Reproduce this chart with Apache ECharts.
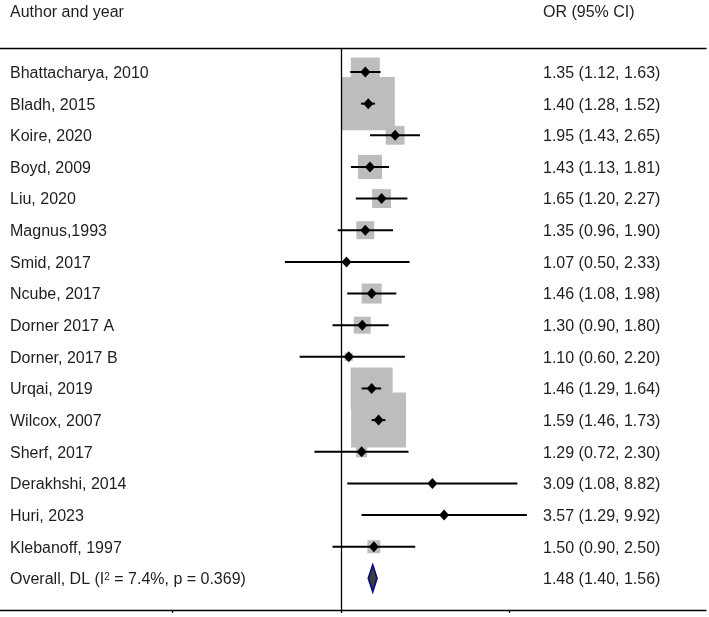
<!DOCTYPE html>
<html>
<head>
<meta charset="utf-8">
<script src="https://cdn.jsdelivr.net/npm/echarts@6/dist/echarts.min.js"></script>
<style>
html,body{margin:0;padding:0;background:#fff;}
#chart{width:709px;height:617px;}
</style>
</head>
<body>
<div id="chart"></div>
<script>
// ---- data ----
const studies = ["Bhattacharya, 2010","Bladh, 2015","Koire, 2020","Boyd, 2009","Liu, 2020","Magnus,1993","Smid, 2017","Ncube, 2017","Dorner 2017 A","Dorner, 2017 B","Urqai, 2019","Wilcox, 2007","Sherf, 2017","Derakhshi, 2014","Huri, 2023","Klebanoff, 1997"];
const orValues = [1.35,1.40,1.95,1.43,1.65,1.35,1.07,1.46,1.30,1.10,1.46,1.59,1.29,3.09,3.57,1.50];
const lowerCI  = [1.12,1.28,1.43,1.13,1.20,0.96,0.50,1.08,0.90,0.60,1.29,1.46,0.72,1.08,1.29,0.90];
const upperCI  = [1.63,1.52,2.65,1.81,2.27,1.90,2.33,1.98,1.80,2.20,1.64,1.73,2.30,8.82,9.92,2.50];
const weights  = [7.5,25.2,3.2,5.2,3.2,2.9,0.2,3.6,2.6,0.6,15.8,27.1,1.1,0.1,0.1,1.5];
const overallLabel = "Overall, DL (I{sup|2} = 7.4%, p = 0.369)";
const overall = {or: 1.48, lower: 1.40, upper: 1.56};
const headerLeft = "Author and year";
const headerRight = "OR (95% CI)";
const axisTicksOR = [0.125, 1, 8];

// ---- build ----
const log2 = v => Math.log2(v);
const fmt = v => v.toFixed(2);
const ciText = (o, l, u) => fmt(o) + " (" + fmt(l) + ", " + fmt(u) + ")";
const maxW = Math.max(...weights);
const studyData = studies.map((s, i) => [i, log2(orValues[i]), log2(lowerCI[i]), log2(upperCI[i]), weights[i]]);
const overallIndex = studies.length;
const overallData = [[overallIndex, log2(overall.or), log2(overall.lower), log2(overall.upper)]];
const textData = studies.map((s, i) => [i, s, ciText(orValues[i], lowerCI[i], upperCI[i])]);
textData.push([overallIndex, overallLabel, ciText(overall.or, overall.lower, overall.upper)]);

const FONT = '16px "Liberation Sans", Arial, sans-serif';
const TXT = '#1e1e1e';

const chart = echarts.init(document.getElementById('chart'), null, {renderer: 'canvas'});
const xMin = -6.073, xMax = 6.50;
chart.setOption({
  animation: false,
  backgroundColor: '#fff',
  grid: {left: 0, right: 3, top: 48, bottom: 7},
  xAxis: [{
    type: 'value', min: xMin, max: xMax, position: 'bottom',
    axisLine: {show: true, onZero: false, lineStyle: {color: '#000', width: 1.3}},
    axisTick: {show: true, inside: false, length: 3, customValues: axisTicksOR.map(log2), lineStyle: {color: '#000', width: 1.3}},
    axisLabel: {show: false}, splitLine: {show: false}
  }, {
    type: 'value', min: xMin, max: xMax, position: 'top',
    axisLine: {show: true, onZero: false, lineStyle: {color: '#000', width: 1.3}},
    axisTick: {show: false}, axisLabel: {show: false}, splitLine: {show: false}
  }],
  yAxis: {
    type: 'value', inverse: true, min: -0.758, max: 17.0, show: false
  },
  graphic: [
    {type: 'text', left: 10, top: 5, style: {text: headerLeft, font: FONT, fill: TXT}},
    {type: 'text', left: 543, top: 5, style: {text: headerRight, font: FONT, fill: TXT}}
  ],
  series: [
    {
      type: 'custom', name: 'boxes', data: studyData, encode: {x: [1, 2, 3], y: 0},
      renderItem: (params, api) => {
        const c = api.coord([api.value(1), api.value(0)]);
        const side = 55 * Math.sqrt(api.value(4) / maxW);
        return {type: 'rect', shape: {x: c[0] - side / 2, y: c[1] - side / 2, width: side, height: side},
          style: {fill: '#bdbdbd'}};
      },
      markLine: {
        silent: true, symbol: 'none', label: {show: false},
        lineStyle: {color: '#000', width: 1.3, type: 'solid'},
        data: [{xAxis: 0}]
      },
      z: 2
    },
    {
      type: 'custom', name: 'ci', data: studyData, encode: {x: [1, 2, 3], y: 0},
      renderItem: (params, api) => {
        const y = api.value(0);
        const c = api.coord([api.value(1), y]);
        const l = api.coord([api.value(2), y]);
        const h = api.coord([api.value(3), y]);
        return {type: 'group', children: [
          {type: 'line', shape: {x1: l[0], y1: l[1], x2: h[0], y2: h[1]}, style: {stroke: '#000', lineWidth: 2}},
          {type: 'polygon', shape: {points: [[c[0] - 5, c[1]], [c[0], c[1] - 5.5], [c[0] + 5, c[1]], [c[0], c[1] + 5.5]]}, style: {fill: '#000'}}
        ]};
      },
      z: 3
    },
    {
      type: 'custom', name: 'overall', data: overallData, encode: {x: [1, 2, 3], y: 0},
      renderItem: (params, api) => {
        const y = api.value(0);
        const c = api.coord([api.value(1), y]);
        const l = api.coord([api.value(2), y]);
        const h = api.coord([api.value(3), y]);
        return {type: 'polygon', shape: {points: [[l[0], l[1]], [c[0], c[1] - 13.5], [h[0], h[1]], [c[0], c[1] + 13.5]]},
          style: {fill: '#3c3c3c', stroke: '#0a0a80', lineWidth: 1.6}};
      },
      z: 3
    },
    {
      type: 'custom', name: 'labels', data: textData, encode: {y: 0},
      renderItem: (params, api) => {
        const i = params.dataIndex;
        const row = textData[i];
        const y = api.coord([0, row[0]])[1] + 1.5;
        return {type: 'group', children: [
          {type: 'text', x: 10, y: y, style: {text: row[1], font: FONT, fill: TXT, verticalAlign: 'middle',
            rich: {sup: {fontSize: 10, verticalAlign: 'top', fill: TXT, fontFamily: '"Liberation Sans", Arial, sans-serif'}}}},
          {type: 'text', x: 543, y: y, style: {text: row[2], font: FONT, fill: TXT, verticalAlign: 'middle'}}
        ]};
      },
      z: 4
    }
  ]
});
</script>
</body>
</html>
